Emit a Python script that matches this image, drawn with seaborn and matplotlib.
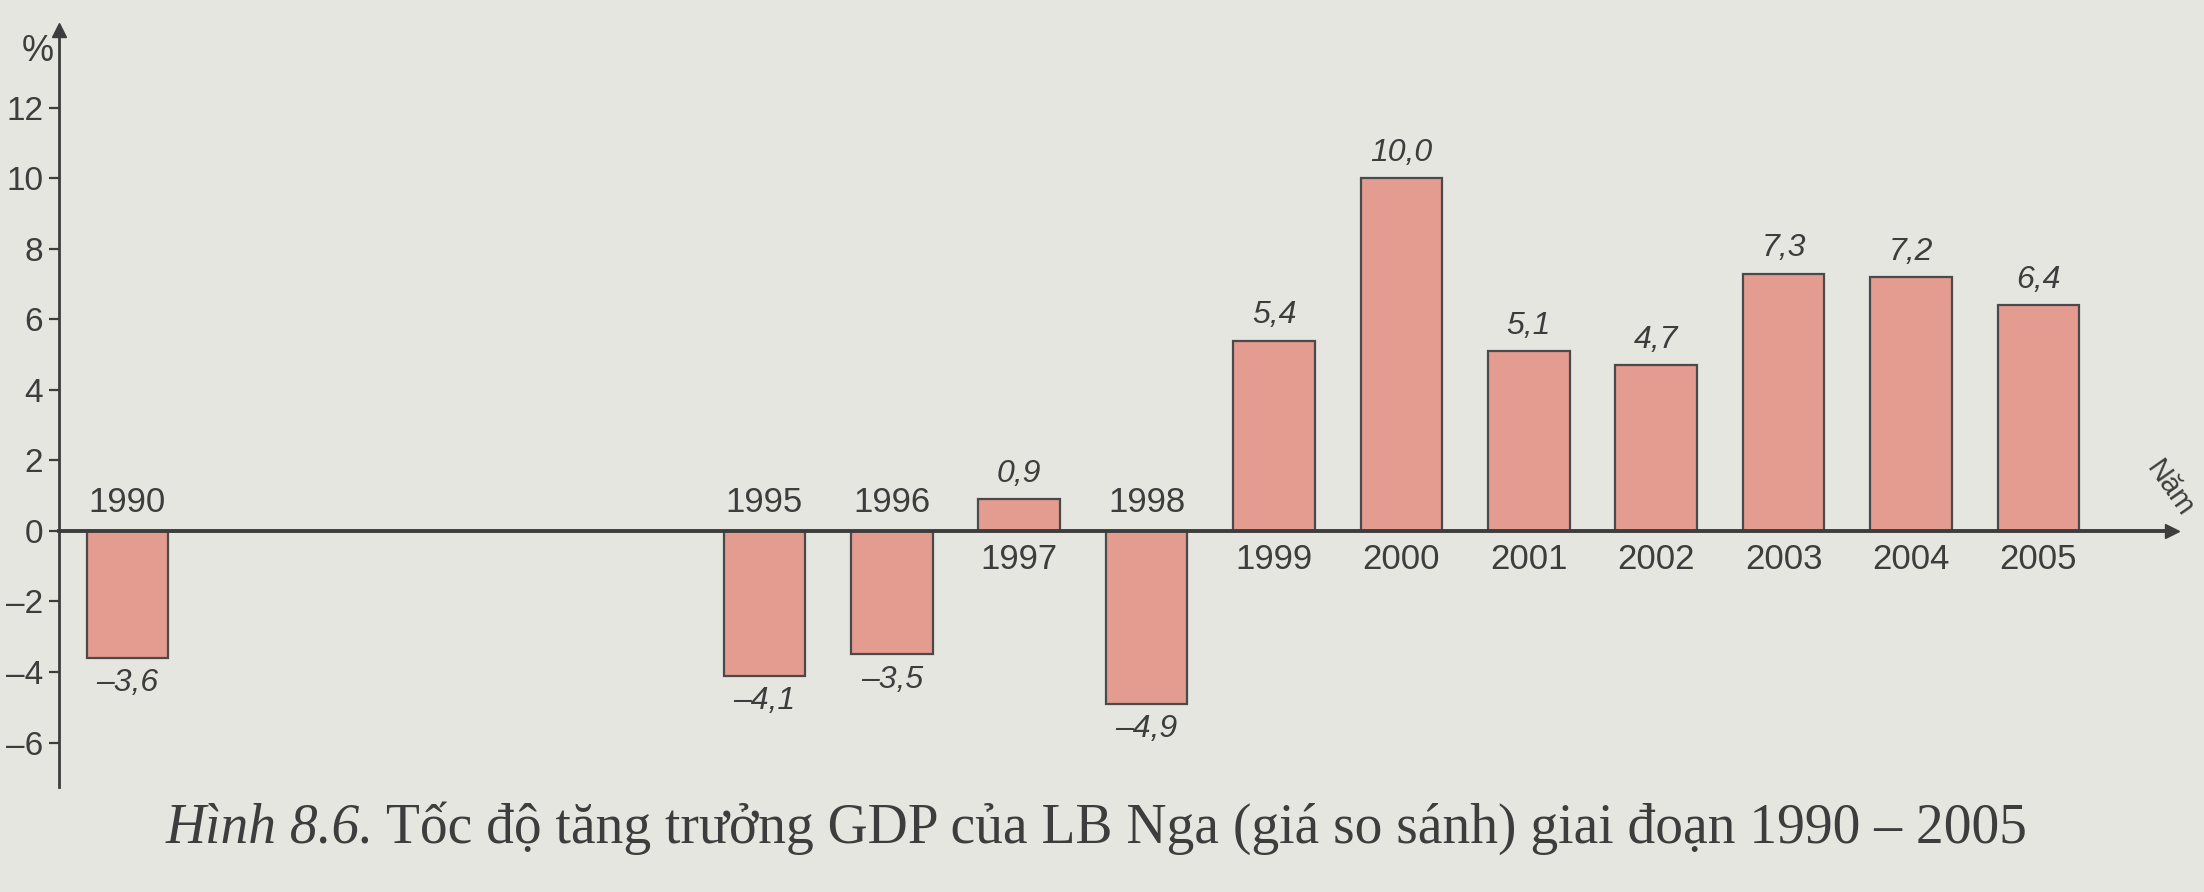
import matplotlib
matplotlib.use("Agg")
import matplotlib.pyplot as plt
import pandas as pd
import seaborn as sns

# data
years = [1990, 1995, 1996, 1997, 1998, 1999, 2000, 2001, 2002, 2003, 2004, 2005]
growth = [-3.6, -4.1, -3.5, 0.9, -4.9, 5.4, 10.0, 5.1, 4.7, 7.3, 7.2, 6.4]
value_labels = ["–3,6", "–4,1", "–3,5", "0,9", "–4,9", "5,4", "10,0", "5,1", "4,7", "7,3", "7,2", "6,4"]
y_ticks = [-6, -4, -2, 0, 2, 4, 6, 8, 10, 12]
caption_head = "Hình 8.6."
caption_body = " Tốc độ tăng trưởng GDP của LB Nga (giá so sánh) giai đoạn 1990 – 2005"

paper = "#e6e6e0"
bar_color = "#e49c90"
ink = "#3d3d3d"

sns.set_theme(style="white", rc={"axes.facecolor": paper, "figure.facecolor": paper})
plt.rcParams["font.family"] = ["Liberation Sans", "DejaVu Sans"]

df = pd.DataFrame({"Năm": years, "%": growth})

fig = plt.figure(figsize=(22.04, 8.92), dpi=100)
ax = fig.add_axes([0, 0, 1, 1])

sns.barplot(data=df, x="Năm", y="%", native_scale=True, width=0.64,
            color=bar_color, saturation=1, edgecolor="#4a4a4a", linewidth=1.6, ax=ax)

x0 = 1989.46
ax.set_xlim(1989.0, 2006.3)
ax.set_ylim(-10.24, 15.06)

for s in ["top", "right"]:
    ax.spines[s].set_visible(False)
ax.spines["left"].set_position(("data", x0))
ax.spines["left"].set_bounds(-7.26, 14.0)
ax.spines["left"].set_color(ink)
ax.spines["left"].set_linewidth(2.0)
ax.spines["bottom"].set_position(("data", 0))
ax.spines["bottom"].set_bounds(x0, 2006.0)
ax.spines["bottom"].set_color(ink)
ax.spines["bottom"].set_linewidth(2.8)

# arrow heads
ax.plot([x0], [14.2], marker="^", color=ink, markersize=10, clip_on=False)
ax.plot([2006.05], [0], marker=">", color=ink, markersize=10, clip_on=False)

ax.set_yticks(y_ticks)
ax.set_yticklabels([str(t) if t >= 0 else "–" + str(-t) for t in y_ticks])
ax.tick_params(axis="y", direction="out", length=7, width=1.6, color=ink,
               labelsize=24, labelcolor=ink, pad=4, left=True)
ax.set_xticks([])
ax.set_xlabel("")
ax.set_ylabel("")

ax.text(x0 - 0.04, 13.6, "%", ha="right", va="center", fontsize=26, color=ink)
ax.text(2005.8, 1.2, "Năm", ha="left", va="center", fontsize=21, color=ink, rotation=-55)

for yr, v, lab in zip(years, growth, value_labels):
    if v >= 0:
        ax.text(yr, v + 0.3, lab, ha="center", va="bottom", fontsize=23, style="italic", color=ink)
        ax.text(yr, -0.35, str(yr), ha="center", va="top", fontsize=25, color=ink)
    else:
        ax.text(yr, v - 0.3, lab, ha="center", va="top", fontsize=23, style="italic", color=ink)
        ax.text(yr, 0.35, str(yr), ha="center", va="bottom", fontsize=25, color=ink)

# caption
cap = fig.text(0.075, 0.055, caption_head, ha="left", va="baseline", fontsize=40,
               style="italic", color=ink, family=["Liberation Serif", "DejaVu Serif"])
fig.canvas.draw()
bb = cap.get_window_extent()
fig.text(bb.x1 / fig.bbox.width, 0.055, caption_body, ha="left", va="baseline", fontsize=40,
         color=ink, family=["Liberation Serif", "DejaVu Serif"])

plt.savefig("out.png", dpi=100, facecolor=paper)
